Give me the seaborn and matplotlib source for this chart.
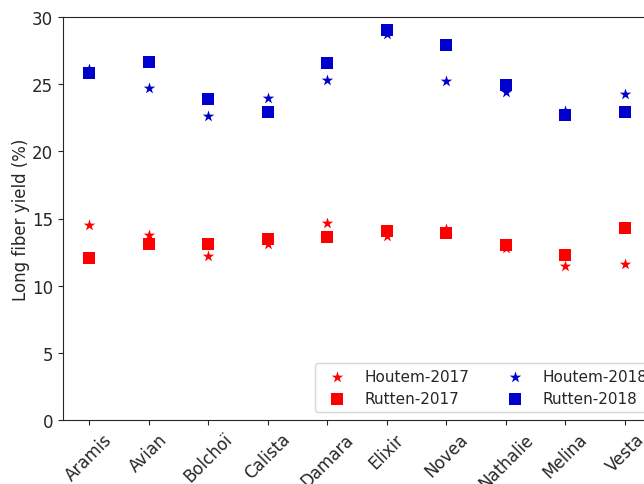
import matplotlib
matplotlib.use("Agg")
import matplotlib.pyplot as plt
import seaborn as sns
import pandas as pd

varieties = ["Aramis", "Avian", "Bolchoï", "Calista", "Damara", "Elixir",
             "Novea", "Nathalie", "Melina", "Vesta"]
houtem_2017 = [14.5, 13.8, 12.2, 13.1, 14.7, 13.7, 14.2, 12.8, 11.5, 11.6]
rutten_2017 = [12.05, 13.1, 13.1, 13.45, 13.65, 14.05, 13.9, 13.05, 12.25, 14.3]
houtem_2018 = [26.1, 24.7, 22.6, 24.0, 25.3, 28.7, 25.2, 24.4, 23.0, 24.3]
rutten_2018 = [25.8, 26.65, 23.9, 22.9, 26.6, 29.05, 27.95, 24.95, 22.7, 22.9]

series = [
    ("Houtem-2017", houtem_2017, "red", "*", 75),
    ("Rutten-2017", rutten_2017, "red", "s", 85),
    ("Houtem-2018", houtem_2018, "mediumblue", "*", 75),
    ("Rutten-2018", rutten_2018, "mediumblue", "s", 85),
]

sns.set_style("ticks")
plt.rcParams["font.family"] = ["DejaVu Sans"]

fig = plt.figure(figsize=(6.44, 4.85), dpi=100)
ax = fig.add_axes([63 / 644, 64 / 485, 598 / 644, 403 / 485])

for name, vals, color, marker, size in series:
    df = pd.DataFrame({"variety": varieties, "value": vals})
    sns.scatterplot(data=df, x="variety", y="value", ax=ax, color=color,
                    marker=marker, s=size, linewidth=0, label=name)

ax.set_xlim(-0.437, 9.604)
ax.set_ylim(0, 30)
ax.set_xlabel("")
ax.set_ylabel("Long fiber yield (%)", fontsize=12, labelpad=1.5)
ax.tick_params(axis="both", labelsize=12)
plt.setp(ax.get_xticklabels(), rotation=45)
for sp in ax.spines.values():
    sp.set_visible(True)
ax.legend(loc="lower right", ncol=2, fontsize=11, frameon=True)

fig.savefig("out.png", dpi=100)
